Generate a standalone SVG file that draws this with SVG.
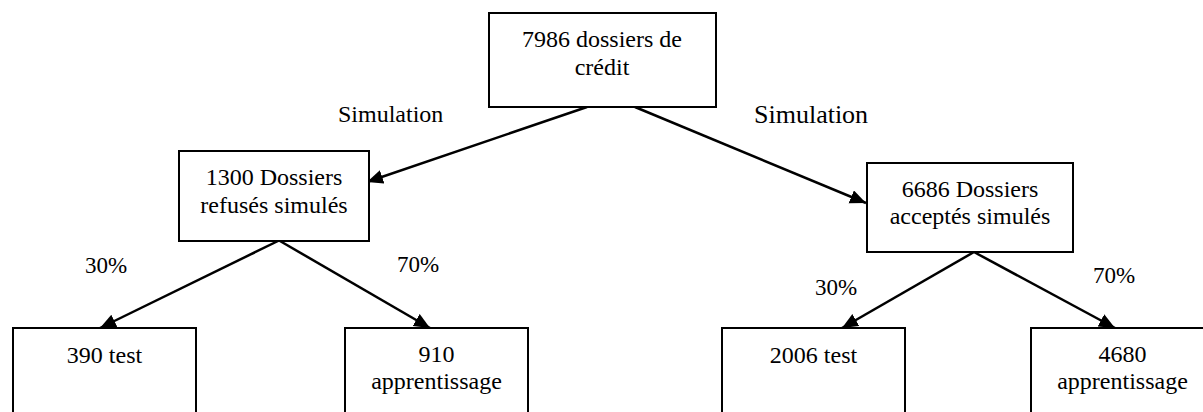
<svg xmlns="http://www.w3.org/2000/svg" width="1203" height="412" viewBox="0 0 1203 412">
<style>
.box{fill:#fff;stroke:#000;stroke-width:2}
.t{font-family:'Liberation Serif',Tinos,'DejaVu Serif','Noto Serif',serif;font-size:24px;fill:#000;text-anchor:middle}
.lbl{font-family:'Liberation Serif',Tinos,'DejaVu Serif','Noto Serif',serif;font-size:23px;fill:#000}
.conn{stroke:#000;stroke-width:2.5;fill:none;marker-end:url(#ah)}
</style>
<defs>
<marker id="ah" markerUnits="userSpaceOnUse" markerWidth="17" markerHeight="15" refX="16" refY="7" orient="auto">
<path d="M0,0 L16,7 L0,14 z" fill="#000"/>
</marker>
</defs>
<rect width="1203" height="412" fill="#fff"/>
<g id="connectors">
<line class="conn" x1="587" y1="107" x2="367" y2="182"/>
<line class="conn" x1="635" y1="107" x2="866" y2="203"/>
<line class="conn" x1="278" y1="241" x2="100" y2="328"/>
<line class="conn" x1="280" y1="241" x2="430" y2="328"/>
<line class="conn" x1="974" y1="252" x2="842" y2="328"/>
<line class="conn" x1="974" y1="252" x2="1115" y2="328"/>
</g>
<g id="labels">
<text class="lbl" x="338" y="122" style="font-size:24px">Simulation</text>
<text class="lbl" x="754" y="123" style="font-size:26px">Simulation</text>
<text class="lbl" x="85" y="273">30%</text>
<text class="lbl" x="397" y="272">70%</text>
<text class="lbl" x="815" y="295">30%</text>
<text class="lbl" x="1093" y="283">70%</text>
</g>
<g id="n-root">
<rect class="box" x="489" y="13" width="227" height="94"/>
<text class="t" x="602" y="47">7986 dossiers de</text>
<text class="t" x="602" y="75">crédit</text>
</g>
<g id="n-refuses">
<rect class="box" x="179" y="151" width="190" height="90"/>
<text class="t" x="274" y="185">1300 Dossiers</text>
<text class="t" x="274" y="213">refusés simulés</text>
</g>
<g id="n-acceptes">
<rect class="box" x="867" y="163" width="206" height="89"/>
<text class="t" x="970" y="197">6686 Dossiers</text>
<text class="t" x="970" y="224">acceptés simulés</text>
</g>
<g id="n-390">
<rect class="box" x="13" y="328" width="183" height="100"/>
<text class="t" x="104.5" y="363">390 test</text>
</g>
<g id="n-910">
<rect class="box" x="345" y="328" width="183" height="100"/>
<text class="t" x="436.5" y="362">910</text>
<text class="t" x="436.5" y="389">apprentissage</text>
</g>
<g id="n-2006">
<rect class="box" x="722" y="328" width="183" height="100"/>
<text class="t" x="813.5" y="363">2006 test</text>
</g>
<g id="n-4680">
<rect class="box" x="1031" y="328" width="183" height="100"/>
<text class="t" x="1122.5" y="362">4680</text>
<text class="t" x="1122.5" y="389">apprentissage</text>
</g>
</svg>
